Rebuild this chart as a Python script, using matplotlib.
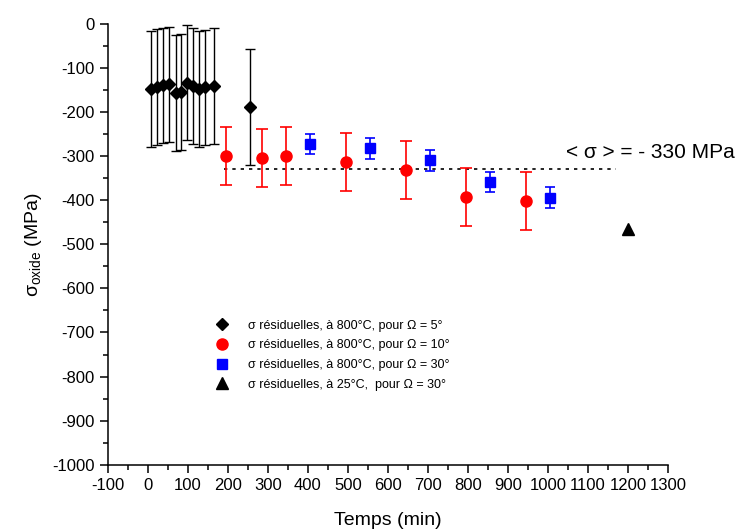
import matplotlib
matplotlib.use('Agg')
import matplotlib.pyplot as plt
from matplotlib.lines import Line2D
from matplotlib.ticker import MultipleLocator

plt.rcParams['font.family'] = ['Liberation Sans', 'DejaVu Sans']
plt.rcParams['mathtext.fontset'] = 'custom'
plt.rcParams['mathtext.rm'] = 'Liberation Sans'
plt.rcParams['mathtext.it'] = 'Liberation Sans'
plt.rcParams['axes.unicode_minus'] = False

# sigma residuelles, 800 C, Omega = 5 deg
t_5 = [7, 22, 37, 52, 69, 83, 97, 112, 127, 142, 165, 255]
s_5 = [-148, -143, -139, -137, -157, -154, -133, -141, -148, -144, -141, -188]
e_5 = [131, 131, 131, 131, 131, 131, 131, 131, 131, 131, 131, 131]

# Omega = 10 deg
t_10 = [195, 285, 345, 495, 645, 795, 945]
s_10 = [-300, -305, -300, -314, -331, -392, -401]
e_10 = [66, 66, 66, 66, 66, 66, 66]

# Omega = 30 deg
t_30 = [405, 555, 705, 855, 1005]
s_30 = [-273, -282, -309, -358, -394]
e_30 = [23, 24, 24, 23, 23]

# 25 C, Omega = 30 deg
t_amb = [1200]
s_amb = [-465]

mean_x = [190, 1170]
mean_y = [-330, -330]

labels = [u'\u03c3 r\u00e9siduelles, \u00e0 800\u00b0C, pour \u03a9 = 5\u00b0',
          u'\u03c3 r\u00e9siduelles, \u00e0 800\u00b0C, pour \u03a9 = 10\u00b0',
          u'\u03c3 r\u00e9siduelles, \u00e0 800\u00b0C, pour \u03a9 = 30\u00b0',
          u'\u03c3 r\u00e9siduelles, \u00e0 25\u00b0C,  pour \u03a9 = 30\u00b0']

fig = plt.figure(figsize=(7.39, 5.32), dpi=100)
ax = fig.add_axes([0.1461, 0.1265, 0.7578, 0.8284])

ax.plot(mean_x, mean_y, ':', color='black', lw=1.2, dashes=(2, 3))

ax.errorbar(t_5, s_5, yerr=e_5, fmt='D', color='black', ms=6, capsize=3.8,
            elinewidth=1, capthick=1)
ax.errorbar(t_10, s_10, yerr=e_10, fmt='o', color='#ff0000', ms=8, capsize=4,
            elinewidth=1.2, capthick=1.2)
ax.errorbar(t_30, s_30, yerr=e_30, fmt='s', color='#0000ff', ms=6.5, capsize=3.6,
            elinewidth=1.2, capthick=1.2)
ax.plot(t_amb, s_amb, '^', color='black', ms=8)

ax.text(1045, -292, u'< \u03c3 > = - 330 MPa', fontsize=15, va='center', ha='left',
        clip_on=False)

handles = [Line2D([], [], ls='none', marker='D', color='black', ms=6),
           Line2D([], [], ls='none', marker='o', color='#ff0000', ms=8),
           Line2D([], [], ls='none', marker='s', color='#0000ff', ms=6.5),
           Line2D([], [], ls='none', marker='^', color='black', ms=8)]
ax.legend(handles, labels, loc='upper left', bbox_to_anchor=(0.17, 0.355),
          frameon=False, fontsize=9, handlelength=1.2, handletextpad=1.5,
          labelspacing=0.62)

ax.set_xlim(-100, 1300)
ax.set_ylim(-1000, 0)
ax.xaxis.set_major_locator(MultipleLocator(100))
ax.xaxis.set_minor_locator(MultipleLocator(50))
ax.yaxis.set_major_locator(MultipleLocator(100))
ax.yaxis.set_minor_locator(MultipleLocator(50))
ax.spines['top'].set_visible(False)
ax.spines['right'].set_visible(False)
for s in ['left', 'bottom']:
    ax.spines[s].set_linewidth(1.1)
ax.tick_params(which='major', direction='out', length=6, width=1.1, labelsize=12)
ax.tick_params(which='minor', direction='out', length=3.5, width=1.1)

ax.set_xlabel('Temps (min)', fontsize=14, labelpad=14)
ax.set_ylabel(r'$\sigma_{\mathrm{oxide}}$ (MPa)', fontsize=14, labelpad=6)

fig.savefig('out.png', dpi=100)
